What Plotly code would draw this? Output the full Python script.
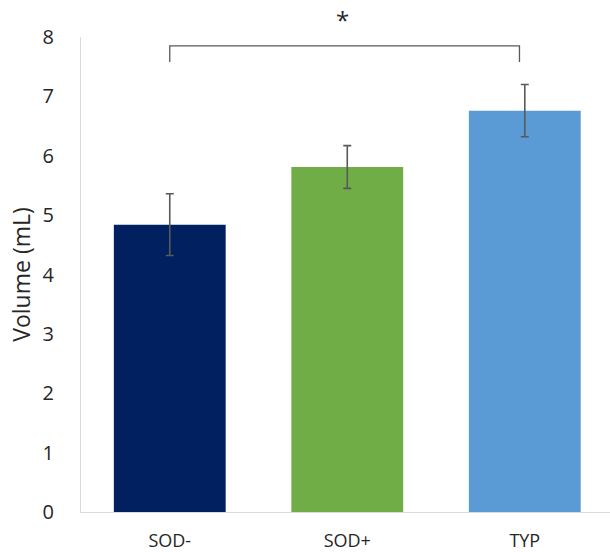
import plotly.graph_objects as go

categories = ["SOD-", "SOD+", "TYP"]
values = [4.84, 5.81, 6.76]
errors = [0.52, 0.36, 0.44]
colors = ["#002060", "#70AD47", "#5B9BD5"]
y_ticks = [0, 1, 2, 3, 4, 5, 6, 7, 8]
bracket_y = 7.85
bracket_leg_y = 7.58
sig_label = "*"

fig = go.Figure()
fig.add_trace(go.Bar(
    x=list(range(len(categories))), y=values,
    marker=dict(color=colors, line=dict(width=0)),
    width=0.63,
    error_y=dict(type="data", array=errors, visible=True, color="#595959", thickness=1.6, width=4),
))

# significance bracket
fig.add_trace(go.Scatter(
    x=[0, 0, 1.97, 1.97], y=[bracket_leg_y, bracket_y, bracket_y, bracket_leg_y],
    mode="lines", line=dict(color="#595959", width=1.3), hoverinfo="skip", cliponaxis=False,
))
fig.add_annotation(x=0.975, y=bracket_y, yshift=26, text=sig_label, showarrow=False,
                   font=dict(size=24, color="#262626", family="Open Sans"))

fig.update_layout(
    width=610, height=552,
    margin=dict(l=81, r=0, t=37, b=40),
    plot_bgcolor="white", paper_bgcolor="white",
    showlegend=False,
    font=dict(family="Open Sans", color="#262626"),
    xaxis=dict(
        tickmode="array", tickvals=list(range(len(categories))), ticktext=categories,
        range=[-0.5, 2.48], showline=True, linecolor="#d9d9d9", linewidth=1.2,
        showgrid=False, zeroline=False, ticks="", tickfont=dict(size=18),
        ticklabelstandoff=12, automargin=False,
    ),
    yaxis=dict(
        range=[0, 8], tickvals=y_ticks, showline=True, linecolor="#d9d9d9", linewidth=1.2,
        showgrid=False, zeroline=False, ticks="", tickfont=dict(size=20),
        ticklabelstandoff=22, automargin=False,
        title=dict(text="Volume (mL)", font=dict(size=23), standoff=5),
    ),
)

fig.write_html("out.html", config={"displayModeBar": False},
               post_script="document.body.style.margin='0';")
